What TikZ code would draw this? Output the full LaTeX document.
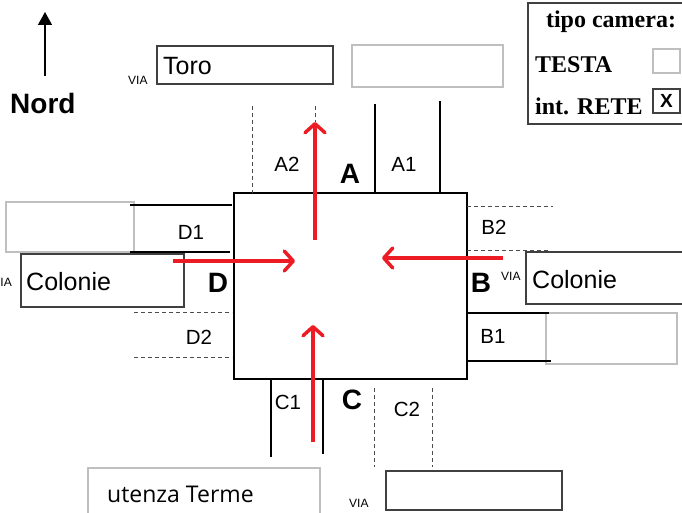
\documentclass[tikz,border=0pt]{standalone}
\usepackage{fontspec}
\setmainfont{Liberation Serif}
\setsansfont{Liberation Sans}
\newfontfamily\opensans{Open Sans}
\usetikzlibrary{arrows.meta}
\definecolor{arrowred}{RGB}{237,28,36}
\begin{document}
\begin{tikzpicture}[x=1pt,y=-1pt,
 lbl/.style={font=\sffamily\fontsize{20.5}{20.5}\selectfont, inner sep=0pt},
 big/.style={font=\sffamily\bfseries\fontsize{28}{28}\selectfont, inner sep=0pt},
 via/.style={font=\sffamily\fontsize{12}{12}\selectfont, inner sep=0pt, anchor=base west},
 street/.style={font=\sffamily\fontsize{25}{25}\selectfont, inner sep=0pt, anchor=base west},
 serifb/.style={font=\rmfamily\bfseries\fontsize{24}{24}\selectfont, inner sep=0pt, anchor=base west},
 darkbox/.style={draw=black!75, line width=1.2pt},
 lightbox/.style={draw=black!25, line width=1.2pt},
 road/.style={line width=1.8pt},
 lane/.style={line width=0.9pt, black!70, dash pattern=on 4pt off 3pt},
 redarrow/.style={draw=arrowred, line width=3.5pt, -{Straight Barb[length=9pt,width=20pt,line cap=round,line join=round]}}
]
\useasboundingbox (0,0) rectangle (682,513);
\clip (0,0) rectangle (682,513);

% north arrow
\coordinate (nbot) at (45,76);
\coordinate (ntop) at (45,12);
\draw[line width=1.3pt, -{Triangle[length=13pt,width=14pt]}] (nbot) -- (ntop);
\node[font=\sffamily\bfseries\fontsize{28}{28}\selectfont, inner sep=0pt, anchor=base west] (nord) at (10,114) {Nord};

% camera type frame
\draw[black!75, line width=1.2pt] (528,3) rectangle (690,124);
\node[font=\rmfamily\bfseries\fontsize{24}{24}\selectfont, inner sep=0pt, anchor=base] (tipo) at (611,28) {tipo camera:};
\node[serifb] (testa) at (535,73) {TESTA};
\node[serifb] (rete) at (535,115) {int. RETE};
\draw[lightbox] (653,49) rectangle (680,73);
\draw[darkbox] (653,89) rectangle (680,113);
\node[font=\sffamily\bfseries\fontsize{19}{19}\selectfont, inner sep=0pt] (xmark) at (666.5,101) {X};

% street boxes
\node[via] (viaA) at (128,85) {VIA};
\draw[darkbox] (157,46) rectangle (333,84);
\node[street] (toro) at (163,75) {Toro};
\draw[lightbox] (352,45) rectangle (503,87);

\draw[lightbox] (6,202) rectangle (134,252);
\draw[darkbox] (21,254) rectangle (184,307);
\node[street] (colD) at (26,290) {Colonie};
\node[via, anchor=base east] (viaD) at (12,286) {VIA};

\node[via] (viaB) at (501,280) {VIA};
\draw[darkbox] (526,252) rectangle (700,304);
\node[street] (colB) at (532,288) {Colonie};
\draw[lightbox] (546,313) rectangle (677,364);

\draw[lightbox] (88,468) rectangle (320,530);
\node[font=\opensans\fontsize{23}{23}\selectfont, inner sep=0pt, anchor=base west] (terme) at (107,502) {utenza Terme};
\node[via] (viaC) at (349,507) {VIA};
\draw[darkbox] (386,471) rectangle (562,510);

% central square
\draw[line width=2.2pt] (234,193) rectangle (467,379);

% side A
\draw[lane] (252,106) -- (252,193);
\draw[lane] (315,106) -- (315,122);
\draw[road] (375,104) -- (375,193);
\draw[road] (440,101) -- (440,192);
\node[lbl] (A2) at (287,164.5) {A2};
\node[lbl] (A1) at (404,164.5) {A1};
\node[big] (A) at (350,174) {A};

% side B
\draw[lane] (467,206) -- (553,206);
\draw[lane] (467,250) -- (548,250);
\draw[road] (467,313) -- (549,313);
\draw[road] (467,361) -- (551,361);
\node[lbl] (B2) at (494,227.5) {B2};
\node[lbl] (B1) at (493,336) {B1};
\node[big] (B) at (481,283) {B};

% side C
\draw[road] (271,379) -- (271,457);
\draw[road] (323,379) -- (323,454);
\draw[lane] (374,388) -- (374,467);
\draw[lane] (432,388) -- (432,467);
\node[lbl] (C1) at (288,402) {C1};
\node[lbl] (C2) at (407,409) {C2};
\node[big] (C) at (352,400) {C};

% side D
\draw[road] (130,205) -- (232,205);
\draw[road] (130,252) -- (230,252);
\draw[lane] (134,312) -- (232,312);
\draw[lane] (134,357) -- (232,357);
\node[lbl] (D1) at (191,232) {D1};
\node[lbl] (D2) at (199,337.5) {D2};
\node[big] (D) at (218,283) {D};

% red arrows
\coordinate (ra0) at (315,240); \coordinate (ra1) at (315,122);
\coordinate (rd0) at (173,261); \coordinate (rd1) at (295,261);
\coordinate (rb0) at (503,258); \coordinate (rb1) at (382,258);
\coordinate (rc0) at (313,442); \coordinate (rc1) at (313,325);
\draw[redarrow] (ra0) -- (ra1);
\draw[redarrow] (rd0) -- (rd1);
\draw[redarrow] (rb0) -- (rb1);
\draw[redarrow] (rc0) -- (rc1);
\end{tikzpicture}
\end{document}
